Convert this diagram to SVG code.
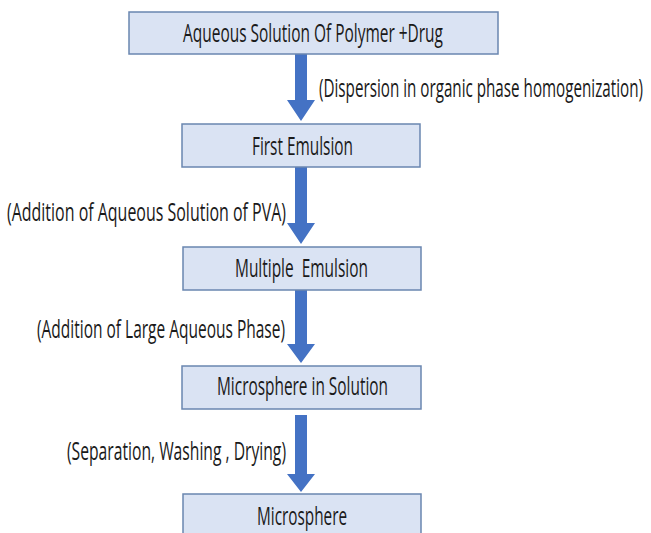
<svg xmlns="http://www.w3.org/2000/svg" width="651" height="533" viewBox="0 0 651 533">
<style>
.box{fill:#dae3f3;stroke:#6a86b0;stroke-width:1.5}
.t{font-family:"Open Sans","Liberation Sans",sans-serif;font-size:25px;fill:#1a1a1a}
.arr{fill:#4472c4}
</style>
<rect width="651" height="533" fill="#ffffff"/>
<g id="connectors">
<polygon class="arr" points="295,54 307,54 307,100 315,100 301,121 287,100 295,100"/>
<polygon class="arr" points="295,167 307,167 307,223 315,223 301,244 287,223 295,223"/>
<polygon class="arr" points="295,290 307,290 307,344 315,344 301,363 287,344 295,344"/>
<polygon class="arr" points="295,415 307,415 307,474 315,474 301,492 287,474 295,474"/>
<text class="t" x="319" y="97" textLength="324" lengthAdjust="spacingAndGlyphs">(Dispersion in organic phase homogenization)</text>
<text class="t" x="7" y="221" textLength="279" lengthAdjust="spacingAndGlyphs">(Addition of Aqueous Solution of PVA)</text>
<text class="t" x="37" y="338" textLength="248" lengthAdjust="spacingAndGlyphs">(Addition of Large Aqueous Phase)</text>
<text class="t" x="67" y="460" textLength="219" lengthAdjust="spacingAndGlyphs">(Separation, Washing , Drying)</text>
</g>
<g id="n1">
<rect class="box" x="129" y="12" width="369" height="42"/>
<text class="t" x="183" y="42" textLength="260" lengthAdjust="spacingAndGlyphs">Aqueous Solution Of Polymer +Drug</text>
</g>
<g id="n2">
<rect class="box" x="182" y="124" width="238" height="43"/>
<text class="t" x="252" y="155" textLength="101" lengthAdjust="spacingAndGlyphs">First Emulsion</text>
</g>
<g id="n3">
<rect class="box" x="183" y="247" width="238" height="43"/>
<text class="t" x="235" y="277" textLength="133" lengthAdjust="spacingAndGlyphs" xml:space="preserve">Multiple  Emulsion</text>
</g>
<g id="n4">
<rect class="box" x="182" y="366" width="239" height="43"/>
<text class="t" x="217" y="395" textLength="171" lengthAdjust="spacingAndGlyphs">Microsphere in Solution</text>
</g>
<g id="n5">
<rect class="box" x="183" y="494" width="238" height="45"/>
<text class="t" x="257" y="525" textLength="90" lengthAdjust="spacingAndGlyphs">Microsphere</text>
</g>
</svg>
